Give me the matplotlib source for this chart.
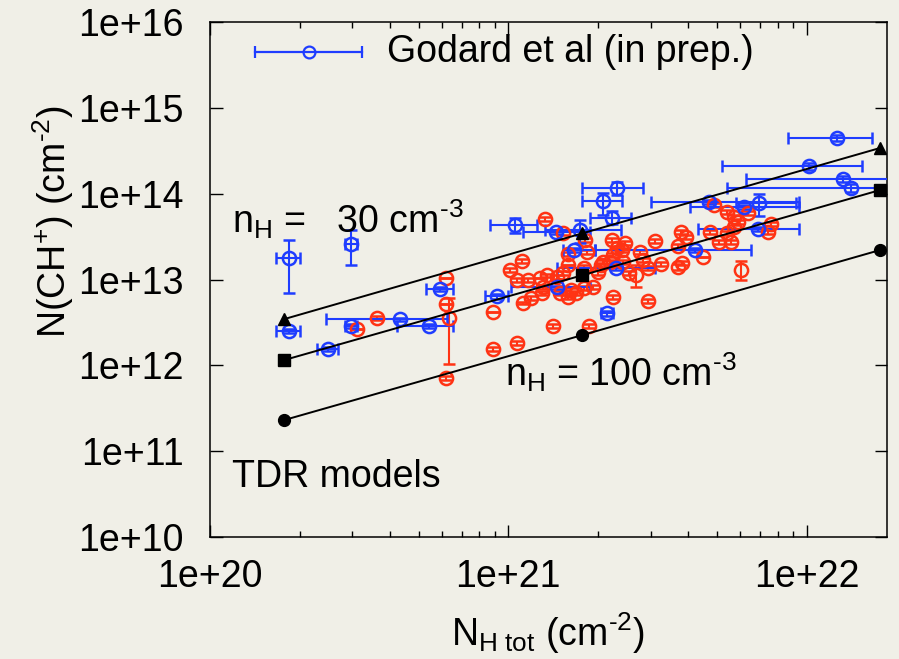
import numpy as np
import matplotlib
matplotlib.use("Agg")
import matplotlib.pyplot as plt

plt.rcParams['font.family'] = ['Liberation Sans', 'DejaVu Sans']
plt.rcParams['mathtext.fontset'] = 'custom'
plt.rcParams['mathtext.rm'] = 'Liberation Sans'
plt.rcParams['mathtext.it'] = 'Liberation Sans:italic'
plt.rcParams['mathtext.bf'] = 'Liberation Sans:bold'

BG = '#f0efe7'
RED = '#ff3314'
BLUE = '#1f3dff'
FS = 27

# TDR model lines
model_NH = [1.77e20, 1.77e21, 1.76e22]
model_n30 = [3.45e12, 3.45e13, 3.4e14]
model_n50 = [1.15e12, 1.12e13, 1.1e14]
model_n100 = [2.3e11, 2.25e12, 2.2e13]

# Godard et al (in prep.) -- blue points
blue_NH = [1.84e20, 2.97e20, 1.84e20, 2.49e20, 2.97e20, 4.34e20, 5.43e20, 5.91e20,
           9.19e20, 1.05e21, 1.45e21, 1.74e21, 1.66e21, 2.29e21, 1.46e21, 2.15e21,
           2.32e21, 2.08e21, 2.23e21, 4.24e21, 4.72e21, 6.19e21, 6.90e21, 6.85e21,
           1.02e22, 1.32e22, 1.41e22, 1.26e22]
blue_CH = [1.77e13, 2.59e13, 2.50e12, 1.55e12, 2.86e12, 3.45e12, 2.86e12, 7.73e12,
           6.41e12, 4.31e13, 3.57e13, 3.77e13, 2.20e13, 1.36e13, 8.15e12, 4.06e12,
           1.16e14, 8.20e13, 5.20e13, 2.20e13, 7.98e13, 6.98e13, 7.77e13, 3.87e13,
           2.10e14, 1.48e14, 1.16e14, 4.45e14]
blue_NH_lo = [1.66e20, 2.84e20, 1.66e20, 2.29e20, 2.84e20, 2.45e20, 4.24e20, 5.31e20,
              8.37e20, 8.70e20, 1.12e21, 1.33e21, 1.52e21, 1.46e21, 1.02e21, 2.05e21,
              1.77e21, 1.77e21, 1.88e21, 1.96e21, 3.00e21, 4.08e21, 5.78e21, 4.31e21,
              5.19e21, 6.24e21, 5.43e21, 8.63e21]
blue_NH_hi = [2.01e20, 3.11e20, 2.01e20, 2.69e20, 3.11e20, 6.24e20, 6.54e20, 6.54e20,
              1.00e21, 1.25e21, 1.88e21, 2.38e21, 1.96e21, 3.11e21, 1.88e21, 2.25e21,
              2.82e21, 2.41e21, 2.57e21, 6.49e21, 9.40e21, 9.40e21, 9.19e21, 9.40e21,
              1.53e22, 3.0e22, 3.0e22, 1.66e22]
blue_CH_lo = [6.94e12, 1.47e13, 2.35e12, 1.45e12, 2.70e12, 3.3e12, 2.7e12, 7.3e12,
              6.0e12, 3.47e13, 3.4e13, 2.65e13, 2.1e13, 1.3e13, 7.8e12, 3.8e12,
              9.64e13, 5.63e13, 4.4e13, 2.1e13, 7.6e13, 6.6e13, 5.48e13, 3.7e13,
              1.9e14, 1.38e14, 1.05e14, 4.1e14]
blue_CH_hi = [2.88e13, 3.77e13, 2.65e12, 1.65e12, 3.0e12, 3.6e12, 3.0e12, 8.2e12,
              6.8e12, 5.20e13, 3.75e13, 4.92e13, 2.3e13, 1.42e13, 8.5e12, 4.3e12,
              1.37e14, 1.02e14, 6.2e13, 2.3e13, 8.4e13, 7.4e13, 9.89e13, 4.05e13,
              2.3e14, 1.6e14, 1.28e14, 4.8e14]

# red sample
red_NH = [6.19e20, 6.19e20, 6.34e20, 6.19e20, 3.63e20, 3.11e20, 8.91e20, 8.91e20,
          1.07e21, 1.12e21, 1.41e21, 1.87e21, 2.25e21, 2.93e21, 1.33e21, 1.11e21,
          1.01e21, 1.07e21, 1.16e21, 1.28e21, 1.35e21, 1.31e21, 1.30e21, 1.46e21,
          1.53e21, 1.58e21, 1.49e21, 1.68e21, 1.59e21, 1.53e21, 1.58e21, 1.79e21,
          1.84e21, 1.62e21, 1.79e21, 2.00e21, 2.07e21, 2.25e21, 2.41e21, 2.23e21,
          2.32e21, 2.47e21, 2.77e21, 2.82e21, 2.53e21, 2.67e21, 2.93e21, 3.11e21,
          3.24e21, 3.72e21, 3.83e21, 3.78e21, 3.93e21, 3.72e21, 4.51e21, 4.76e21,
          5.43e21, 5.69e21, 5.87e21, 6.38e21, 4.88e21, 5.43e21, 5.07e21, 5.56e21,
          5.69e21, 7.57e21, 7.40e21, 6.01e21, 1.93e21, 2.04e21, 2.20e21, 2.43e21,
          1.81e21, 1.19e21]
red_CH = [1.04e13, 5.17e12, 3.55e12, 7.09e11, 3.55e12, 2.64e12, 4.17e12, 1.55e12,
          1.81e12, 5.31e12, 2.86e12, 2.86e12, 6.24e12, 5.60e12, 5.06e13, 1.64e13,
          1.29e13, 9.84e12, 9.84e12, 1.04e13, 1.12e13, 8.15e12, 6.94e12, 1.07e13,
          1.19e13, 6.24e12, 6.94e12, 6.94e12, 1.47e13, 3.47e13, 1.98e13, 1.36e13,
          2.08e13, 7.52e12, 7.94e12, 1.22e13, 1.60e13, 1.92e13, 2.20e13, 2.88e13,
          2.32e13, 2.65e13, 2.08e13, 1.68e13, 1.19e13, 1.12e13, 1.36e13, 2.81e13,
          1.51e13, 1.40e13, 1.55e13, 3.57e13, 3.12e13, 2.45e13, 1.82e13, 3.57e13,
          6.11e13, 5.33e13, 4.67e13, 5.94e13, 7.37e13, 3.47e13, 2.73e13, 2.73e13,
          4.08e13, 4.42e13, 3.57e13, 1.29e13, 8.15e12, 1.47e13, 1.60e13, 1.60e13,
          2.88e13, 6.07e12]
# error bars in dex (lower, upper)
red_dlo = [0.0, 0.0, 0.536, 0.02, 0.02, 0.0, 0.0, 0.02, 0.02, 0.01, 0.02, 0.02, 0.02, 0.02,
           0.02, 0.02, 0.02, 0.02, 0.02, 0.0, 0.02, 0.02, 0.02, 0.02, 0.02, 0.02, 0.02, 0.02,
           0.0, 0.02, 0.02, 0.03, 0.02, 0.03, 0.02, 0.03, 0.02, 0.02, 0.02, 0.02, 0.02, 0.02,
           0.02, 0.02, 0.02, 0.14, 0.02, 0.02, 0.02, 0.03, 0.02, 0.02, 0.02, 0.02, 0.0, 0.02,
           0.02, 0.02, 0.02, 0.02, 0.02, 0.02, 0.02, 0.02, 0.02, 0.02, 0.02, 0.12, 0.02, 0.02,
           0.02, 0.02, 0.02, 0.02]
red_dhi = [0.0, 0.0, 0.233, 0.02, 0.03, 0.0, 0.0, 0.02, 0.02, 0.01, 0.02, 0.02, 0.02, 0.02,
           0.02, 0.02, 0.02, 0.02, 0.02, 0.0, 0.02, 0.02, 0.02, 0.02, 0.02, 0.02, 0.02, 0.02,
           0.0, 0.02, 0.02, 0.03, 0.02, 0.03, 0.02, 0.03, 0.02, 0.02, 0.02, 0.02, 0.02, 0.02,
           0.02, 0.02, 0.02, 0.12, 0.02, 0.02, 0.02, 0.03, 0.02, 0.02, 0.02, 0.02, 0.0, 0.02,
           0.02, 0.02, 0.02, 0.02, 0.02, 0.02, 0.02, 0.02, 0.02, 0.02, 0.02, 0.10, 0.02, 0.02,
           0.02, 0.02, 0.02, 0.02]

fig = plt.figure(figsize=(8.99, 6.59), dpi=100, facecolor=BG)
ax = fig.add_axes([210/899, 1-537/659, 677/899, 515/659], facecolor=BG)
ax.set_xscale('log')
ax.set_yscale('log')

# model lines
ax.plot(model_NH, model_n30, '-^', color='k', lw=1.4, ms=8.5, zorder=4)
ax.plot(model_NH, model_n50, '-s', color='k', lw=1.4, ms=9, zorder=4)
ax.plot(model_NH, model_n100, '-o', color='k', lw=1.4, ms=8.5, zorder=4)

# red points
rc = np.array(red_CH)
ylo = rc - rc / 10**np.array(red_dlo)
yhi = rc * 10**np.array(red_dhi) - rc
ax.errorbar(red_NH, red_CH, yerr=[ylo, yhi], fmt='o', mfc='none', mec=RED, ecolor=RED,
            ms=9.5, mew=1.8, elinewidth=1.5, capsize=4.5, capthick=1.5, zorder=3)

# blue points
bx = np.array(blue_NH)
by = np.array(blue_CH)
xerr = [bx - np.array(blue_NH_lo), np.array(blue_NH_hi) - bx]
yerr = [by - np.array(blue_CH_lo), np.array(blue_CH_hi) - by]
ax.errorbar(bx, by, xerr=xerr, yerr=yerr, fmt='o', mfc='none', mec=BLUE, ecolor=BLUE,
            ms=9.5, mew=1.8, elinewidth=1.5, capsize=4.5, capthick=1.5, zorder=3)

ax.set_xlim(1e20, 1.86e22)
ax.set_ylim(1e10, 1e16)

ax.set_xticks([1e20, 1e21, 1e22])
ax.set_xticklabels(['1e+20', '1e+21', '1e+22'])
ax.set_yticks([1e10, 1e11, 1e12, 1e13, 1e14, 1e15, 1e16])
ax.set_yticklabels(['1e+10', '1e+11', '1e+12', '1e+13', '1e+14', '1e+15', '1e+16'])
ax.tick_params(which='both', direction='in', top=True, right=True, width=1, labelsize=FS)
ax.tick_params(which='major', length=9)
ax.tick_params(which='minor', length=4.5)
ax.tick_params(axis='x', which='major', pad=16)
ax.tick_params(axis='y', which='major', pad=19)
for s in ax.spines.values():
    s.set_linewidth(1.1)

fig.text(548/899, 1-646/659, r'N$_\mathrm{H\ tot}$ (cm$^{\text{-}2}$)', fontsize=FS,
         ha='center', va='baseline')
fig.text(53/899, 1-222/659, r'N(CH$^{+}$) (cm$^{\text{-}2}$)', rotation=90, fontsize=FS,
         ha='center', va='center')

# legend drawn by hand
tr = ax.transAxes
ax.plot([0.0665, 0.2245], [0.9417, 0.9417], color=BLUE, lw=1.6, transform=tr)
ax.plot([0.0665, 0.2245], [0.9417, 0.9417], ls='none', marker='|', ms=8, mew=1.6,
        color=BLUE, transform=tr)
ax.plot([0.1462], [0.9417], marker='o', ms=8.5, mfc='none', mec=BLUE, mew=1.6, transform=tr)
ax.text(0.2615, 0.9417, 'Godard et al (in prep.)', fontsize=FS, va='center', transform=tr)

ax.text(0.0325, 0.590, r'n$_\mathrm{H}$ =   30 cm$^{\text{-}3}$', fontsize=FS, transform=tr)
ax.text(0.436, 0.293, r'n$_\mathrm{H}$ = 100 cm$^{\text{-}3}$', fontsize=FS, transform=tr)
ax.text(0.0325, 0.097, 'TDR models', fontsize=FS, transform=tr)

fig.savefig('out.png', dpi=100, facecolor=BG)
